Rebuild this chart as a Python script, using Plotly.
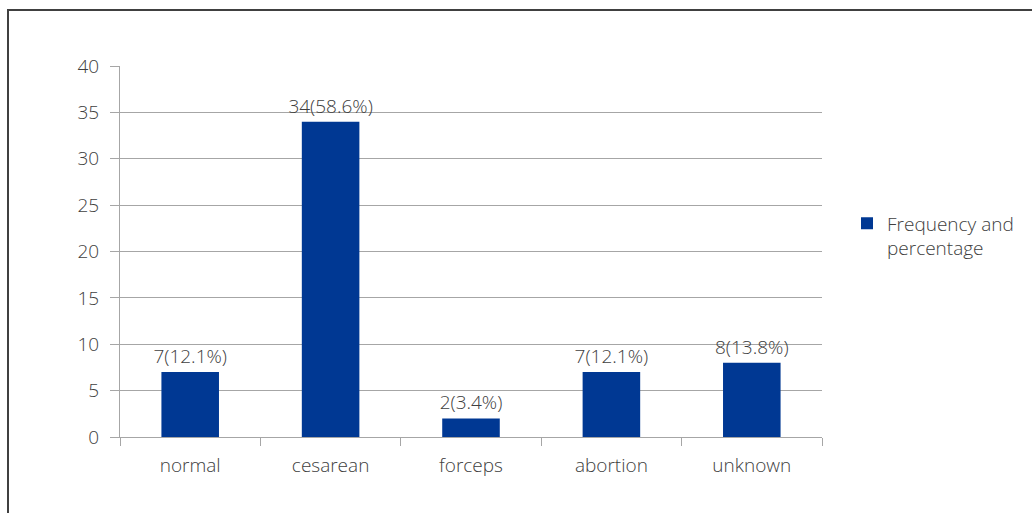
import plotly.graph_objects as go

categories = ["normal", "cesarean", "forceps", "abortion", "unknown"]
counts = [7, 34, 2, 7, 8]
percents = [12.1, 58.6, 3.4, 12.1, 13.8]
labels = [f"{c}({p}%)" for c, p in zip(counts, percents)]
series_name = "Frequency and<br>percentage"
y_ticks = [0, 5, 10, 15, 20, 25, 30, 35, 40]

W, H = 1032, 513
L, R, T, B = 120, 210, 66, 76
pw, ph = W - L - R, H - T - B

FONT = "Open Sans, sans-serif"
TXT = "#404040"
fs = 19

fig = go.Figure()
fig.add_trace(go.Bar(
    x=categories, y=counts, name=series_name,
    marker=dict(color="#003893", line=dict(width=0)),
    text=labels, textposition="outside", cliponaxis=False, constraintext="none",
    textfont=dict(color=TXT, size=fs, family=FONT, weight=300),
))

grid = "#A6A6A6"
fig.update_layout(
    width=W, height=H,
    margin=dict(l=L, r=R, t=T, b=B),
    paper_bgcolor="white", plot_bgcolor="white",
    font=dict(family=FONT, color=TXT, size=fs, weight=300),
    bargap=0.59,
    showlegend=True,
    legend=dict(x=(847 - L) / pw, y=(437 - 236) / ph, xanchor="left", yanchor="middle",
                font=dict(size=fs, color=TXT, family=FONT, weight=300), valign="top",
                bgcolor="rgba(0,0,0,0)", itemwidth=30, tracegroupgap=0),
    xaxis=dict(type="category", showline=True, linecolor=grid, linewidth=1,
               ticks="outside", tickson="boundaries", ticklen=8, tickcolor=grid,
               showgrid=False, ticklabelstandoff=11,
               tickfont=dict(size=fs, color=TXT, family=FONT, weight=300)),
    yaxis=dict(range=[0, 40], tickvals=y_ticks, showgrid=True, gridcolor=grid, gridwidth=1,
               showline=True, linecolor=grid, linewidth=1, ticks="outside", ticklen=9,
               tickcolor=grid, zeroline=False, ticklabelstandoff=7,
               tickfont=dict(size=fs, color=TXT, family=FONT, weight=300)),
)

fig.add_shape(type="rect", xref="paper", yref="paper",
              x0=(8 - L) / pw, x1=(W + 20 - L) / pw,
              y0=(437 - (H + 20)) / ph, y1=(437 - 10) / ph,
              line=dict(color="#404040", width=2), fillcolor="rgba(0,0,0,0)", layer="below")

fig.write_html("out.html")
